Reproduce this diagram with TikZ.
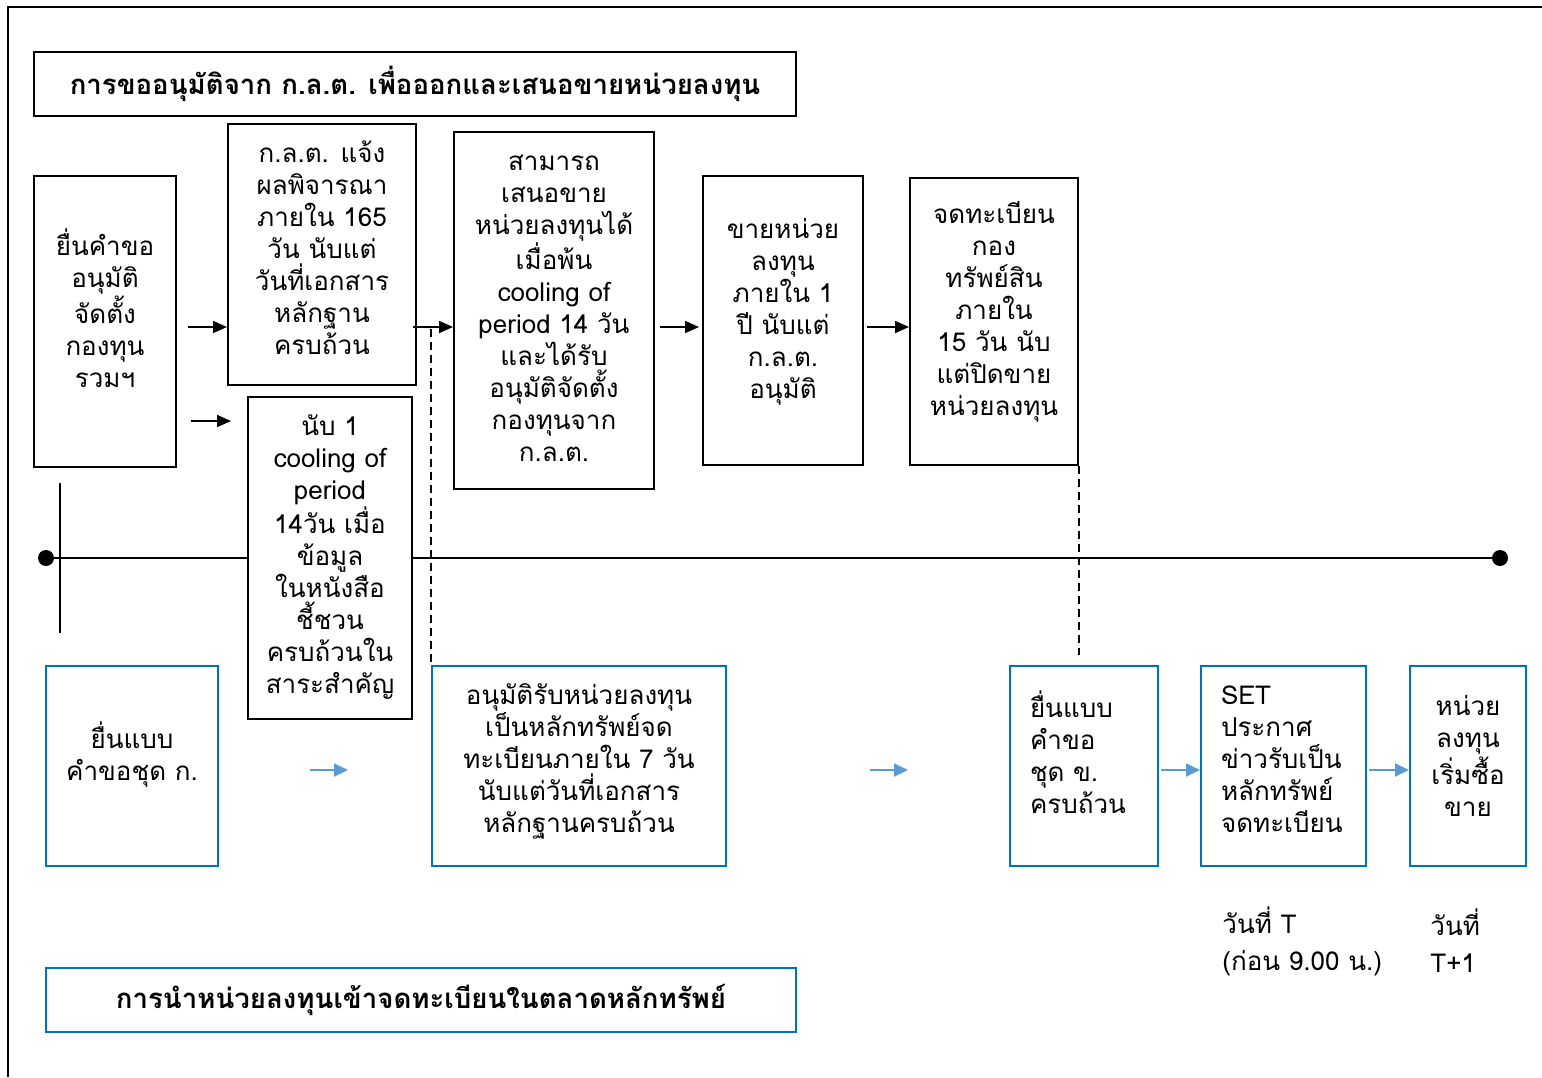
\documentclass[tikz,border=0pt]{standalone}
\usepackage{fontspec}
\setmainfont[Script=Thai]{Loma}
\usetikzlibrary{arrows.meta}
\definecolor{boxblue}{RGB}{0,112,192}
\definecolor{arrblue}{RGB}{91,155,213}
\begin{document}
\begin{tikzpicture}[x=0.5pt,y=-0.5pt,
  every node/.style={font=\fontsize{13}{16}\selectfont},
  blk/.style={draw=black, line width=1pt, fill=white, inner sep=0pt},
  bbx/.style={draw=boxblue, line width=1pt, fill=white, inner sep=0pt},
  txc/.style={align=center, inner sep=0pt},
  txl/.style={align=left, inner sep=0pt},
  ttl/.style={font=\fontsize{13.8}{16}\selectfont\bfseries, align=center},
  arr/.style={line width=0.9pt, -{Triangle[length=7pt,width=6pt]}},
  barr/.style={draw=arrblue, line width=0.9pt, -{Triangle[length=7pt,width=6.5pt]}},
  dsh/.style={line width=0.7pt, dash pattern=on 4pt off 2.5pt},
  lbl/.style={align=left, inner sep=0pt, anchor=west, font=\fontsize{13}{18.5}\selectfont}]
\useasboundingbox (0,0) rectangle (1542,1077);
% outer frame
\coordinate (fr0) at (8,1077);
\coordinate (fr1) at (8,7);
\coordinate (fr2) at (1542,7);
\draw[line width=1pt] (fr0) -- (fr1) -- (fr2);
% timeline
\coordinate (t0) at (46,558);
\coordinate (t1) at (1500,558);
\coordinate (v0) at (60,483);
\coordinate (v1) at (60,633);
\draw[line width=1pt] (t0) -- (t1);
\fill (t0) circle (4pt);
\fill (t1) circle (4pt);
\draw[line width=0.8pt] (v0) -- (v1);
% helper coordinates
\coordinate (y327) at (0,327);
\coordinate (y421) at (0,421);
\coordinate (y770) at (0,770);
\coordinate (yd1) at (0,329);
\coordinate (yd2) at (0,655);
% titles
\node[blk, ttl, minimum width=381pt, minimum height=32pt] (T1) at (415,84)
  {การขออนุมัติจาก ก.ล.ต. เพื่อออกและเสนอขายหน่วยลงทุน};
\node[bbx, ttl, minimum width=375pt, minimum height=32pt] (T2) at (421,1000)
  {การนำหน่วยลงทุนเข้าจดทะเบียนในตลาดหลักทรัพย์};
% black boxes
\node[blk, minimum width=71pt, minimum height=145.5pt,
  label={[txc, yshift=6.5pt]center:{ยื่นคำขอ\\อนุมัติ\\จัดตั้ง\\กองทุน\\รวมฯ}}] (A) at (105,321.5) {};
\node[blk, minimum width=94pt, minimum height=130.5pt,
  label={[txc, yshift=3.5pt]center:{ก.ล.ต. แจ้ง\\ผลพิจารณา\\ภายใน 165\\วัน นับแต่\\วันที่เอกสาร\\หลักฐาน\\ครบถ้วน}}] (B) at (322,254.5) {};
\node[blk, minimum width=82pt, minimum height=161pt,
  label={[txc, yshift=0.5pt]center:{นับ 1\\cooling of\\period\\14วัน เมื่อ\\ข้อมูล\\ในหนังสือ\\ชี้ชวน\\ครบถ้วนใน\\สาระสำคัญ}}] (C) at (330,558) {};
\node[blk, minimum width=100pt, minimum height=178.5pt,
  label={[txc, yshift=1pt]center:{สามารถ\\เสนอขาย\\หน่วยลงทุนได้\\เมื่อพ้น\\cooling of\\period 14 วัน\\และได้รับ\\อนุมัติจัดตั้ง\\กองทุนจาก\\ก.ล.ต.}}] (D) at (554,310.5) {};
\node[blk, minimum width=80pt, minimum height=144.5pt,
  label={[txc, yshift=4.5pt]center:{ขายหน่วย\\ลงทุน\\ภายใน 1\\ปี นับแต่\\ก.ล.ต.\\อนุมัติ}}] (E) at (783,320.5) {};
\node[blk, minimum width=84pt, minimum height=143.5pt,
  label={[txc, yshift=5pt]center:{จดทะเบียน\\กอง\\ทรัพย์สิน\\ภายใน\\15 วัน นับ\\แต่ปิดขาย\\หน่วยลงทุน}}] (F) at (994,321.5) {};
% blue boxes
\node[bbx, minimum width=86pt, minimum height=100pt,
  label={[txc, yshift=5.5pt]center:{ยื่นแบบ\\คำขอชุด ก.}}] (G1) at (132,766) {};
\node[bbx, minimum width=147pt, minimum height=100pt,
  label={[txc, yshift=2.5pt]center:{อนุมัติรับหน่วยลงทุน\\เป็นหลักทรัพย์จด\\ทะเบียนภายใน 7 วัน\\นับแต่วันที่เอกสาร\\หลักฐานครบถ้วน}}] (G2) at (579,766) {};
\node[bbx, minimum width=74pt, minimum height=100pt,
  label={[txl, text width=54pt, yshift=7pt]center:{ยื่นแบบ\\คำขอ\\ชุด ข.\\ครบถ้วน}}] (H1) at (1084,766) {};
\node[bbx, minimum width=82.5pt, minimum height=100pt,
  label={[txl, text width=62.5pt, yshift=3.5pt]center:{SET\\ประกาศ\\ข่าวรับเป็น\\หลักทรัพย์\\จดทะเบียน}}] (H2) at (1283.5,766) {};
\node[bbx, minimum width=58pt, minimum height=100pt,
  label={[txc, yshift=5pt]center:{หน่วย\\ลงทุน\\เริ่มซื้อ\\ขาย}}] (H3) at (1468,766) {};
% labels
\node[lbl] (L1) at (1222,941) {วันที่ T\\(ก่อน 9.00 น.)};
\node[lbl] (L2) at (1430,941) {วันที่\\T+1};
% black arrows
\draw[arr, shorten <=5.5pt] (A.east |- y327) -- (B.west |- y327);
\draw[arr, shorten <=7pt, shorten >=8pt] (A.east |- y421) -- (C.west |- y421);
\draw[arr, shorten <=-2pt] (B.east |- y327) -- (D.west |- y327);
\draw[arr, shorten <=2.5pt, shorten >=1.5pt] (D.east |- y327) -- (E.west |- y327);
\draw[arr, shorten <=1.5pt] (E.east |- y327) -- (F.west |- y327);
% blue arrows
\draw[barr, shorten <=45.5pt, shorten >=41.5pt] (G1.east |- y770) -- (G2.west |- y770);
\draw[barr, shorten <=71.5pt, shorten >=50.5pt] (G2.east |- y770) -- (H1.west |- y770);
\draw[barr, shorten <=1pt] (H1.east |- y770) -- (H2.west |- y770);
\draw[barr, shorten <=1pt] (H2.east |- y770) -- (H3.west |- y770);
% dashed lines
\draw[dsh] (G2.north west |- yd1) -- (G2.north west);
\draw[dsh] (F.south east) -- (F.south east |- yd2);
\end{tikzpicture}
\end{document}
